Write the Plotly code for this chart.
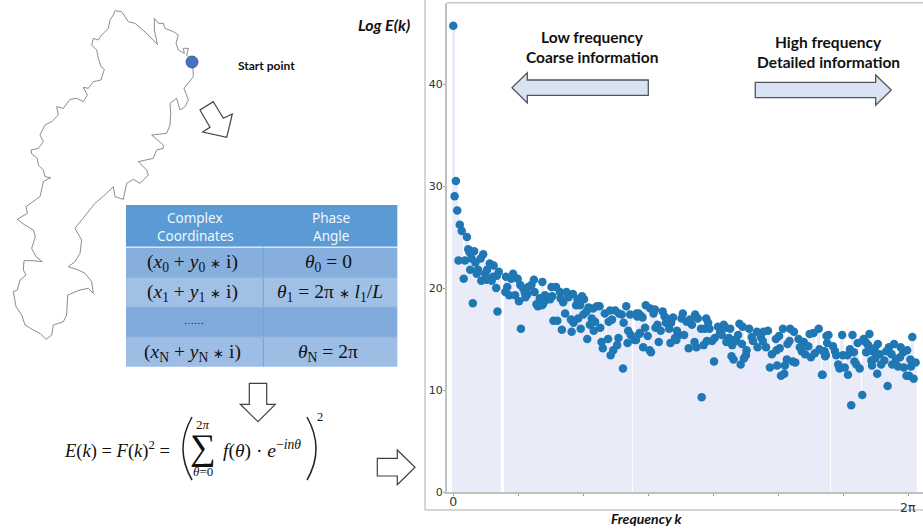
import plotly.graph_objects as go

# ---------- spectrum data (frequency index, Log E(k)); axis ticks every 100 units, last = 2pi ----------
freq_k = [0,4,2,6,10,13,21,23,32,25,46,42,28,18,8,34,26,16,30,38,36,56,62,52,49,43,51,59,61,70,67,81,92,89,99,103,83,80,86,66,95,101,68,104,124,120,115,108,110,114,125,111,137,135,130,128,138,141,
151,158,164,174,184,198,201,191,177,169,165,152,144,142,149,136,133,189,195,208,221,225,215,205,200,172,154,160,181,185,192,167,182,196,213,218,210,226,216,206,228,230,238,254,252,246,242,261,266,233,241,249,255,259,239,244,262,272,282,269,273,279,268,287,283,
296,303,310,308,322,353,372,351,338,325,331,335,327,359,364,376,367,389,392,285,288,291,314,311,319,332,344,347,355,341,334,343,381,387,394,407,416,419,410,413,402,398,390,371,385,374,362,316,299,295,286,281,292,302,304,382,401,428,431,424,420,429,432,
440,445,455,507,518,524,562,554,548,574,484,477,467,459,501,496,438,426,435,444,461,473,476,468,481,517,514,531,539,546,533,536,541,550,563,556,569,573,575,502,497,490,451,450,447,442,513,522,526,510,498,487,509,504,567,
577,598,614,640,706,631,622,634,638,584,653,648,678,670,688,698,610,635,616,645,666,674,692,656,587,571,572,589,599,606,649,663,643,687,681,703,711,675,658,644,684,693,704,617,620,625,592,594,602,652,607,568,697,701,708,668,629,612]
log_energy = [45.7,30.5,29.0,27.6,26.2,25.6,25.0,23.8,23.6,23.5,23.3,22.9,22.9,22.7,22.7,22.5,21.8,20.9,18.5,21.8,21.4,22.4,22.2,21.8,21.4,20.7,20.8,20.7,21.1,21.6,21.2,21.1,21.4,20.9,20.9,20.3,20.1,19.6,19.3,20.0,19.3,18.7,17.7,16.0,20.8,20.3,20.1,19.9,19.5,19.4,19.6,19.1,20.6,19.0,18.2,18.4,18.4,19.3,
20.1,20.1,19.6,19.6,19.4,19.2,18.9,18.9,19.1,18.6,19.0,19.2,19.1,18.8,18.9,18.3,19.0,18.3,18.3,18.1,18.2,18.2,18.0,17.7,17.4,17.5,16.8,16.8,16.9,16.6,17.0,15.9,15.7,16.0,17.0,16.7,16.4,16.1,15.8,15.0,14.7,14.1,15.0,15.1,14.4,13.9,13.4,12.1,18.2,17.5,17.8,17.8,17.5,17.4,16.7,16.9,16.6,17.4,17.5,15.8,15.4,14.9,14.6,15.6,17.2,
18.3,18.0,17.9,17.5,17.7,17.5,17.4,17.0,17.1,17.2,16.9,16.6,16.6,16.7,16.9,17.0,16.4,17.0,16.6,17.5,17.3,17.1,16.4,16.1,15.8,16.0,15.8,15.4,15.4,15.1,14.6,14.9,16.0,16.0,16.0,16.2,16.4,16.1,15.6,15.4,15.1,14.8,14.8,14.7,14.4,14.2,14.1,14.7,15.3,16.1,15.5,14.9,14.2,13.9,13.7,9.3,12.8,13.3,13.0,15.1,14.7,14.4,14.9,
16.5,16.2,16.0,16.0,16.0,15.7,16.0,15.6,15.5,15.3,15.8,15.7,15.7,15.2,15.3,15.0,15.4,16.0,14.8,14.5,14.8,15.2,14.8,14.2,14.2,14.8,14.5,15.0,14.7,14.3,14.2,13.8,13.5,13.2,14.0,13.6,13.8,13.4,14.6,14.1,13.9,13.5,13.9,13.4,13.1,12.5,13.0,12.8,12.7,12.4,12.4,12.2,11.6,11.4,11.5,
15.4,15.4,15.4,15.5,15.2,15.0,14.6,14.7,14.4,14.3,14.5,14.1,14.5,14.2,14.2,13.9,14.0,13.7,13.7,13.8,13.8,13.5,13.7,13.5,13.8,13.8,13.3,13.4,13.4,13.4,13.1,12.9,12.9,13.2,13.0,13.0,12.7,12.5,12.5,12.4,12.3,12.2,12.3,12.8,12.5,12.1,12.5,12.1,12.2,11.6,11.5,11.5,11.4,11.4,11.1,10.4,9.5,8.5]
x_ticks = [0,100,200,300,400,500,600,700]
x_tick_labels = ["0","","","","","","",""]
y_ticks = [0,10,20,30,40]

# ---------- decorative page drawing (page coordinates of the 923x530 figure) ----------
outline = [(578,185),(560,165),(565,145),(550,145),(553,160),(535,150),(528,130),(535,105),(520,95),(495,85),(490,70),(475,70),(463,55),(463,90),(472,133),(440,100),(405,70),(385,65),(375,50),(365,35),(345,32),(340,45),(330,60),(325,85),(305,105),(295,120),(280,115),(275,135),(290,150),(295,175),(303,200),(313,208),(303,240),(280,245),(265,265),(250,262),(262,285),(250,305),(230,295),(210,298),(190,325),(170,320),(175,345),(155,365),(135,375),(120,405),(130,425),(115,445),(93,450),(95,462),(112,475),(115,495),(130,510),(135,530),(152,533),(130,545),(120,590),(90,610),(78,620),(82,640),(52,658),(70,672),(100,690),(106,710),(95,745),(108,770),(127,785),(100,782),(72,782),(70,810),(78,825),(60,840),(52,870),(40,875),(48,920),(65,945),(75,975),(100,990),(120,1000),(138,1018),(155,1005),(160,975),(190,965),(200,945),(203,885),(240,870),(265,865),(280,880),(275,845),(255,820),(235,810),(205,800),(225,785),(240,760),(245,720),(225,685),(245,660),(285,610),(320,580),(340,560),(345,590),(370,598),(380,550),(400,538),(420,550),(445,525),(440,510),(415,485),(460,475),(470,450),(490,445),(490,435),(455,405),(500,400),(510,375),(512,340),(510,310),(530,295),(540,330),(555,320),(565,300),(552,265),(580,230),(578,185)]
outline_x = [p[0]/3 for p in outline]
outline_y = [p[1]/3 for p in outline]

W, H = 923, 530
PX_L, PX_T, PX_B = 447, 3, 492
K_PER_PX = 1.538
fig = go.Figure()

# stems + dots on the real axes
fig.add_trace(go.Bar(x=freq_k, y=log_energy, width=5.2, marker=dict(color="#e9ebf9", line_width=0),
                     hoverinfo="skip", showlegend=False))
fig.add_trace(go.Scatter(x=freq_k, y=log_energy, mode="markers",
                         marker=dict(color="#1f77b4", size=8.5, line_width=0), showlegend=False))
# page-coordinate overlay
fig.add_trace(go.Scatter(x=outline_x, y=outline_y, mode="lines", xaxis="x2", yaxis="y2",
                         line=dict(color="#808080", width=0.9), hoverinfo="skip", showlegend=False))
fig.add_trace(go.Scatter(x=[192], y=[62], mode="markers", xaxis="x2", yaxis="y2",
                         marker=dict(color="#4472c4", size=12, line=dict(color="#2f528f", width=0.8)),
                         hoverinfo="skip", showlegend=False))

shapes = []
def add_line(x0, y0, x1, y1, color="#c8c8c8", width=1.5):
    shapes.append(dict(type="line", xref="x2", yref="y2", x0=x0, y0=y0, x1=x1, y1=y1,
                       line=dict(color=color, width=width), layer="above"))
def add_rect(x0, y0, x1, y1, color):
    shapes.append(dict(type="rect", xref="x2", yref="y2", x0=x0, y0=y0, x1=x1, y1=y1,
                       fillcolor=color, line_width=0, layer="above"))
def add_poly(pts, fill, line, width=1.2):
    d = "M " + " L ".join(f"{x:.1f},{y:.1f}" for x, y in pts) + " Z"
    shapes.append(dict(type="path", xref="x2", yref="y2", path=d, fillcolor=fill,
                       line=dict(color=line, width=width), layer="above"))

# outer panel frame
add_line(425, 0, 425, 510)
add_line(425, 510, 923, 510)
add_line(447, 2.7, 923, 2.7)

# hollow arrows
add_poly([(x/3, y/3) for x, y in [(640,305),(670,355),(697,342),(680,412),(608,396),(630,382),(600,330)]], "#ffffff", "#404040")
add_poly([(40+x/3, 375+y/3) for x, y in [(628,25),(680,25),(680,88),(706,88),(654,140),(601,88),(628,88)]], "#ffffff", "#404040")
add_poly([(40+x/3, 375+y/3) for x, y in [(1012,250),(1072,250),(1072,225),(1125,277),(1072,329),(1072,303),(1012,303)]], "#ffffff", "#404040")
# filled arrows
add_poly([(420+x/3, y/3) for x, y in [(276,263),(322,218),(322,240),(685,240),(685,286),(322,286),(322,309)]], "#dae3f3", "#50555e", 1.3)
add_poly([(670+x/3, y/3) for x, y in [(256,247),(617,247),(617,225),(664,270),(617,316),(617,293),(256,293)]], "#dae3f3", "#50555e", 1.3)

# table
TL, TM, TR = 126, 263.3, 397.3
rows = [(205, 247, "#5b9bd5"), (247.5, 277.5, "#86afdd"), (277.5, 307, "#a1c0e6"), (307, 337, "#80aadb"), (337, 366.7, "#9dbde5")]
for y0, y1, c in rows:
    add_rect(TL, y0, TR, y1, c)
add_line(TL, 247.3, TR, 247.3, "#dbe7f5", 1.5)
add_line(TM, 247.5, TM, 366.7, "#6fa3d8", 1)
for yy in (277.5, 307, 337):
    add_line(TL, yy, TR, yy, "#8fb6e0", 1)

# big brackets of the formula
shapes.append(dict(type="path", xref="x2", yref="y2", path="M 192,417 Q 174,449 192,480",
                   line=dict(color="#222222", width=1.5), layer="above"))
shapes.append(dict(type="path", xref="x2", yref="y2", path="M 307,417 Q 325,449 307,480",
                   line=dict(color="#222222", width=1.5), layer="above"))

ann = []
def text(x, y, s, size, family="Lato", color="#111111", anchor="center"):
    ann.append(dict(xref="x2", yref="y2", x=x, y=y, text=s, showarrow=False, xanchor=anchor, yanchor="middle",
                    font=dict(size=size, family=family, color=color)))

SERIF = "Liberation Serif"
STAR = '<span style="font-size:13px">∗</span>'
text(266, 65, "<b>Start point</b>", 12)
text(384, 24, "<b><i>Log E(k)</i></b>", 16)
text(592, 37, "<b>Low frequency</b>", 15.5)
text(592, 57, "<b>Coarse information</b>", 15.5)
text(828, 42, "<b>High frequency</b>", 15.5)
text(828, 62, "<b>Detailed information</b>", 15.5)
text(647, 518, "<b><i>Frequency k</i></b>", 14)
text(908, 507, "2π", 12.5, "DejaVu Sans", "#333333")

text(195, 218, "Complex", 13.5, "Noto Sans", "#f0f6fc")
text(195, 236, "Coordinates", 13.5, "Noto Sans", "#f0f6fc")
text(330.7, 218, "Phase", 13.5, "Noto Sans", "#f0f6fc")
text(330.7, 236, "Angle", 13.5, "Noto Sans", "#f0f6fc")
text(192, 263, f"(<i>x</i><sub>0</sub> + <i>y</i><sub>0</sub> {STAR} i)", 19.5, SERIF)
text(192, 293, f"(<i>x</i><sub>1</sub> + <i>y</i><sub>1</sub> {STAR} i)", 19.5, SERIF)
text(194, 320, "……", 10, SERIF)
text(192, 353, f"(<i>x</i><sub>N</sub> + <i>y</i><sub>N</sub> {STAR} i)", 19.5, SERIF)
text(328, 263, "<i>θ</i><sub>0</sub> = 0", 19.5, SERIF)
text(330, 293, f"<i>θ</i><sub>1</sub> = 2π {STAR} <i>l</i><sub>1</sub>/<i>L</i>", 19.5, SERIF)
text(328, 353, "<i>θ</i><sub>N</sub> = 2π", 19.5, SERIF)

text(117, 449, "<i>E</i>(<i>k</i>) = <i>F</i>(<i>k</i>)<sup>2</sup> =", 18.5, SERIF)
text(203, 447, "∑", 36, SERIF)
text(203, 424, "2<i>π</i>", 13, SERIF)
text(203, 471, "<i>θ</i>=0", 13, SERIF)
text(262, 449, "<i>f</i>(<i>θ</i>) · <i>e</i><sup>−<i>inθ</i></sup>", 19.5, SERIF)
text(320, 417, "2", 12.5, SERIF)

fig.update_layout(
    width=W, height=H, margin=dict(l=0, r=0, t=0, b=0), autosize=False,
    paper_bgcolor="white", plot_bgcolor="rgba(0,0,0,0)", showlegend=False, bargap=0,
    xaxis=dict(domain=[PX_L/W, 1], range=[(PX_L-453.3)*K_PER_PX, (W-453.3)*K_PER_PX], automargin=False,
               tickvals=x_ticks, ticktext=x_tick_labels, ticks="outside", ticklen=2, tickcolor="#999999",
               ticklabelstandoff=-5,
               tickfont=dict(size=12.5, family="DejaVu Sans", color="#333333"),
               showgrid=False, zeroline=False, showline=True, linecolor="#c0c0c0", linewidth=2),
    yaxis=dict(domain=[1-PX_B/H, 1-PX_T/H], range=[0, (PX_B-PX_T)/10.2], automargin=False,
               tickvals=y_ticks, ticks="outside", ticklen=2, tickcolor="#999999",
               ticklabelstandoff=-2,
               tickfont=dict(size=11, family="DejaVu Sans", color="#333333"),
               showgrid=False, zeroline=False, showline=True, linecolor="#c0c0c0", linewidth=2),
    xaxis2=dict(domain=[0, 1], range=[0, W], anchor="y2", visible=False, fixedrange=True, automargin=False),
    yaxis2=dict(domain=[0, 1], range=[H, 0], anchor="x2", visible=False, fixedrange=True, automargin=False),
    shapes=shapes, annotations=ann,
)
fig.write_html("out.html", config=dict(displayModeBar=False),
               post_script="document.body.style.margin='0';document.documentElement.style.overflow='hidden';")
